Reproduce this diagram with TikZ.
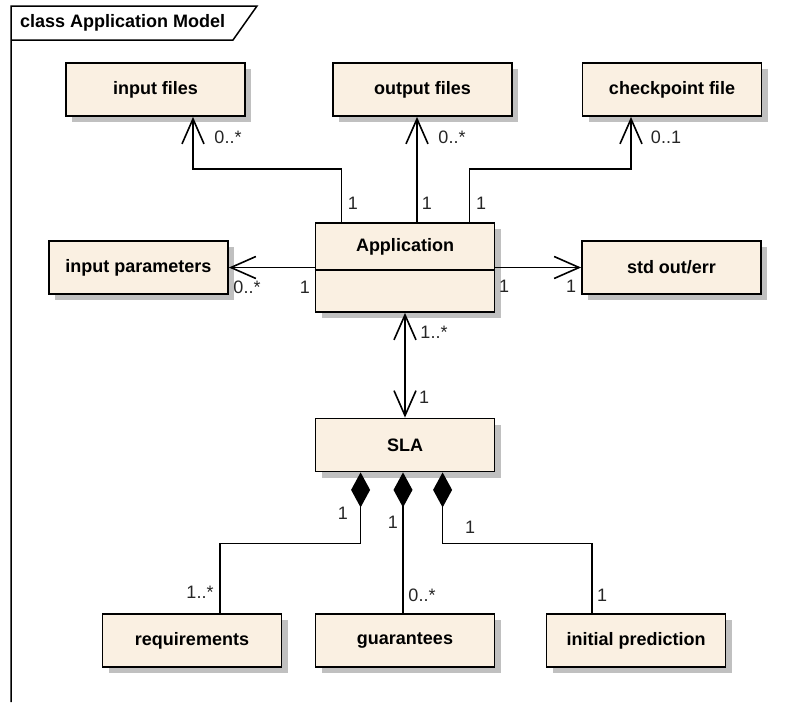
\documentclass[tikz,border=0pt]{standalone}
\usepackage{fontspec}
\setmainfont{Liberation Sans}
\usetikzlibrary{arrows.meta,shadows}
\definecolor{classfill}{RGB}{250,240,226}
\definecolor{shadowgray}{RGB}{192,192,192}
\begin{document}
\begin{tikzpicture}[
  x=1pt, y=1pt,
  classbox/.style={draw, line width=1.8pt, fill=classfill,
    minimum width=179pt, minimum height=53pt, inner sep=0pt,
    font=\fontsize{18}{21}\selectfont\bfseries,
    drop shadow={fill=shadowgray, opacity=1, shadow xshift=6pt, shadow yshift=-6pt}},
  boldtext/.style={inner sep=0pt, font=\fontsize{18}{21}\selectfont\bfseries},
  mult/.style={inner sep=0pt, font=\fontsize{18}{21}\selectfont, text=black!85},
  assoc/.style={draw, line width=1.6pt},
  opentip/.style={-{Straight Barb[length=25pt,width=22pt]}},
  comp/.style={{Diamond[length=35pt,width=19pt]}-},
  frameline/.style={draw, line width=1.5pt},
]
\useasboundingbox (0,0) rectangle (787,-702);

% diagram frame with its name tab
\draw[frameline] (11,-702) -- (11,-6) -- (257,-6) -- (233,-40) -- (11,-40);
\node[boldtext, anchor=west] (title) at (20,-23) {class Application Model};

% classes
\node[classbox] (inf)  at (155.5,-89.5) {input files};
\node[classbox] (outf) at (422.5,-89.5) {output files};
\node[classbox] (ckpt) at (672,-89.5)   {checkpoint file};
\node[classbox] (inp)  at (138.5,-267.5) {input parameters};
\node[classbox] (std)  at (671.5,-267.5) {std out/err};
\node[classbox, minimum height=89pt] (app) at (405,-267.5) {};
\node[boldtext] (apptitle) at (405,-247) {Application};
\draw[line width=1.8pt] ([yshift=-48pt]app.north west) -- ([yshift=-48pt]app.north east);
\node[classbox] (sla)  at (405,-445)   {SLA};
\node[classbox] (req)  at (192,-640.5) {requirements};
\node[classbox] (gua)  at (405,-640.5) {guarantees};
\node[classbox] (ini)  at (636,-640.5) {initial prediction};

% associations of Application
\draw[assoc, opentip] ([xshift=27pt]app.north west) -- ++(0,53) -| ([xshift=37.5pt]inf.south);
\draw[assoc, opentip] ([xshift=12pt]app.north) -- ([xshift=-5.5pt]outf.south);
\draw[assoc, opentip] ([xshift=155pt]app.north west) -- ++(0,53) -| ([xshift=-41pt]ckpt.south);
\draw[assoc, opentip] (app.west) -- (inp.east);
\draw[assoc, opentip] (app.east) -- (std.west);
\draw[assoc, {Straight Barb[length=25pt,width=22pt]}-{Straight Barb[length=25pt,width=22pt]}] (app.south) -- (sla.north);

% compositions of SLA
\draw[assoc, comp] ([xshift=46pt]sla.south west) -- ++(0,-71) -| ([xshift=28pt]req.north);
\draw[assoc, comp] ([xshift=-2pt]sla.south) -- ([xshift=-2pt]gua.north);
\draw[assoc, comp] ([xshift=128pt]sla.south west) -- ++(0,-71) -| ([xshift=-44pt]ini.north);

% multiplicities
\node[mult] (m1)  at (228,-137) {0..*};
\node[mult] (m2)  at (353,-203) {1};
\node[mult] (m3)  at (452,-137) {0..*};
\node[mult] (m4)  at (427,-203) {1};
\node[mult] (m5)  at (666,-137) {0..1};
\node[mult] (m6)  at (481,-203) {1};
\node[mult] (m7)  at (247,-287) {0..*};
\node[mult] (m8)  at (305,-287) {1};
\node[mult] (m9)  at (504,-286) {1};
\node[mult] (m10) at (571,-286) {1};
\node[mult] (m11) at (434,-332) {1..*};
\node[mult] (m12) at (424,-397) {1};
\node[mult] (m13) at (343,-513) {1};
\node[mult] (m14) at (200,-592) {1..*};
\node[mult] (m15) at (393,-522) {1};
\node[mult] (m16) at (422,-595) {0..*};
\node[mult] (m17) at (470,-527) {1};
\node[mult] (m18) at (602,-595) {1};
\end{tikzpicture}
\end{document}
